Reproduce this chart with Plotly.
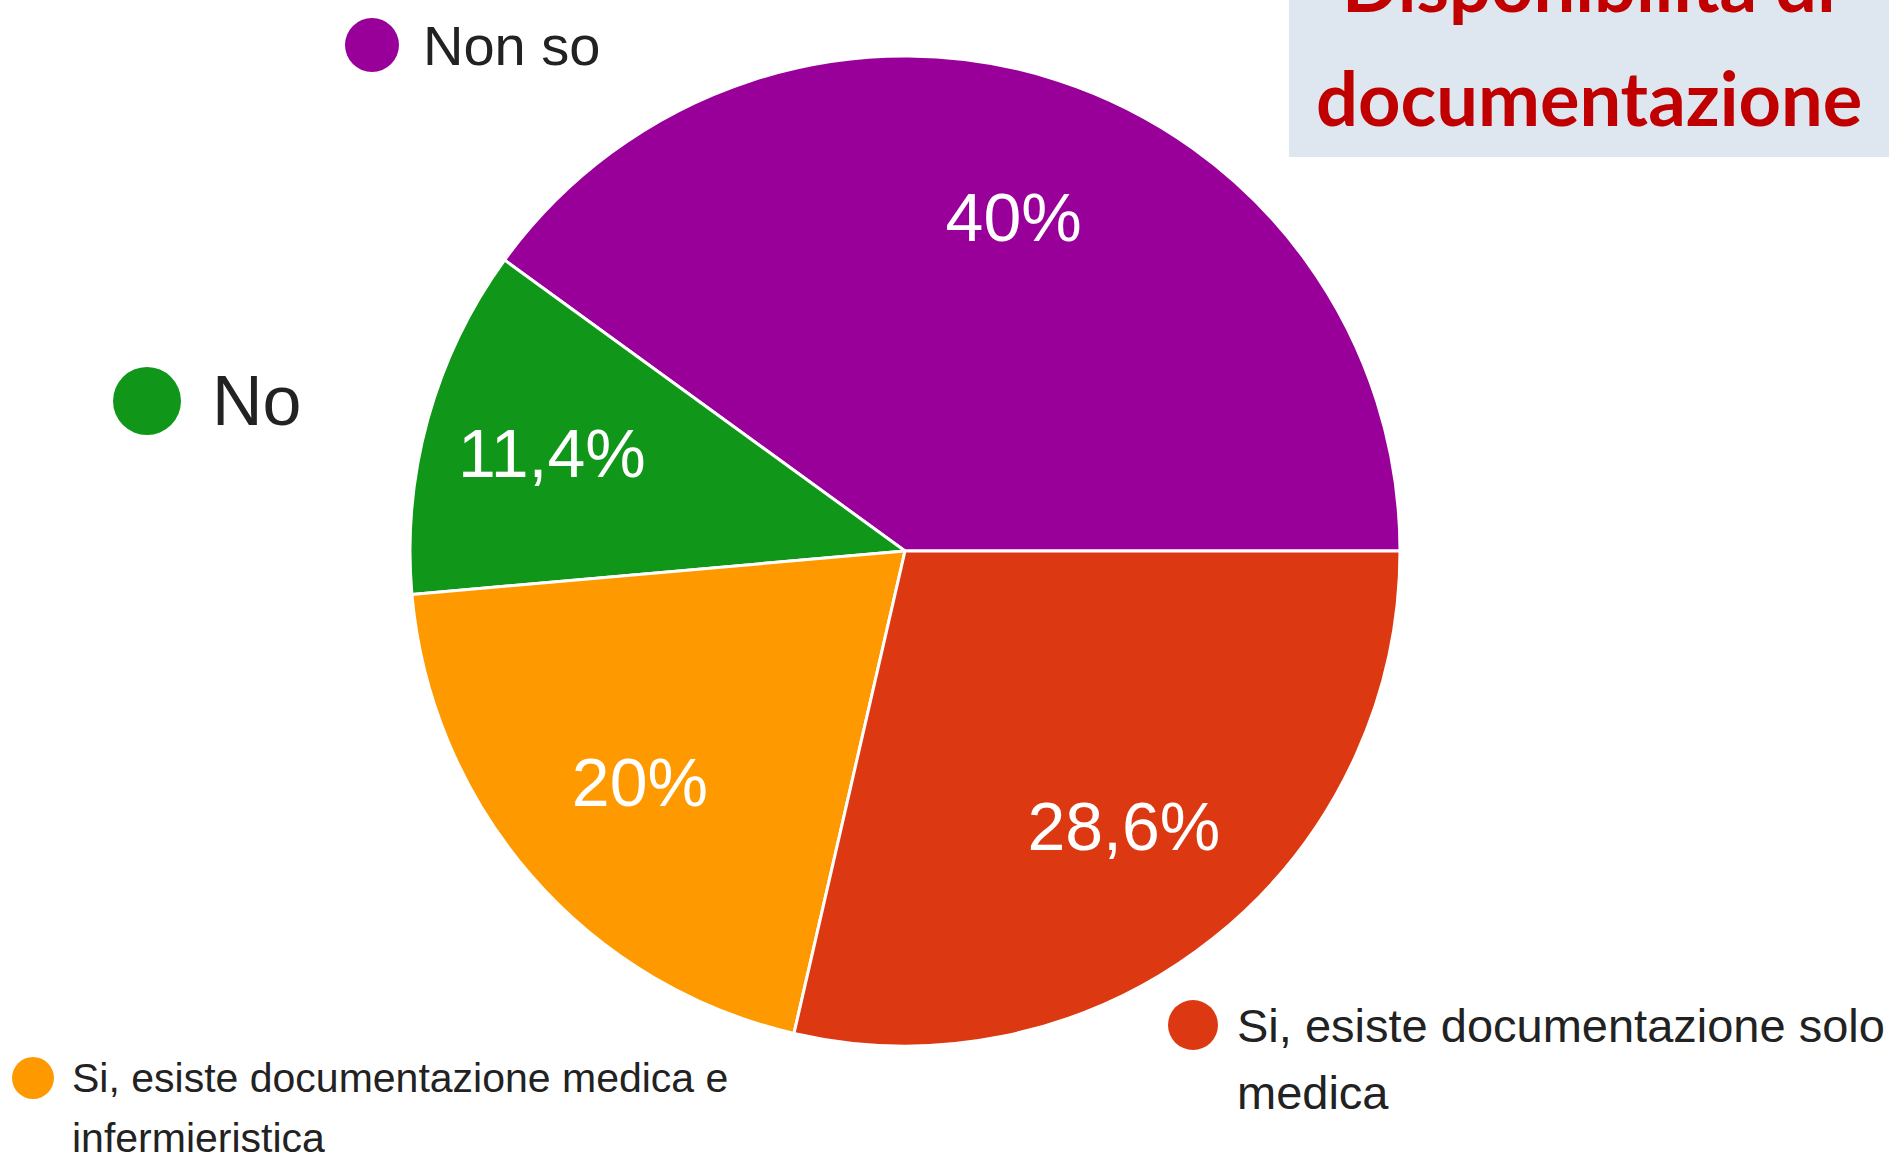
import plotly.graph_objects as go

W, H = 1899, 1155

labels = ["Non so", "No", "Si, esiste documentazione medica e infermieristica",
          "Si, esiste documentazione solo medica"]
values = [40.0, 11.4, 20.0, 28.6]
value_text = ["40%", "11,4%", "20%", "28,6%"]
colors = ["#990099", "#109618", "#FF9900", "#DC3912"]
legend_lines = [["Non so"], ["No"],
                ["Si, esiste documentazione medica e", "infermieristica"],
                ["Si, esiste documentazione solo", "medica"]]
title_lines = ["Disponibilità di", "documentazione"]

# pie placement (pixels)
cx, cy, r = 905, 551, 495
domain = dict(x=[(cx - r) / W, (cx + r) / W],
              y=[(H - cy - r) / H, (H - cy + r) / H])

common = dict(labels=labels, values=values, sort=False,
              direction="counterclockwise", rotation=-54,
              showlegend=False, domain=domain)

fig = go.Figure()
# coloured slices
fig.add_trace(go.Pie(
    **common, textinfo="none",
    marker=dict(colors=colors, line=dict(color="white", width=3)),
    hoverinfo="label+percent",
))
# transparent ring carrying the percentage labels further out, as in the original
fig.add_trace(go.Pie(
    **common, hole=0.42, text=value_text,
    textinfo="text", texttemplate="%{text}",
    textposition="inside", insidetextorientation="horizontal",
    textfont=dict(family="Liberation Sans", size=68, color="white"),
    marker=dict(colors=["rgba(0,0,0,0)"] * 4, line=dict(width=0)),
    hoverinfo="skip",
))

def px(x):
    return x / W

def py(y):
    return 1 - y / H

shapes = []
annotations = []

# legend items: (circle cx, cy, radius, text x, first line y, line step, font size)
legend_pos = [
    (372, 45, 27, 421, 45, 0, 56),
    (147, 401, 34, 210, 401, 0, 70),
    (33, 1078, 21, 70, 1078, 60, 41),
    (1193, 1025, 25, 1235, 1025, 67, 47),
]
for (lx, ly, lr, tx, ty, step, fs), col, lines in zip(legend_pos, colors, legend_lines):
    shapes.append(dict(type="circle", xref="paper", yref="paper",
                       x0=px(lx - lr), x1=px(lx + lr), y0=py(ly + lr), y1=py(ly - lr),
                       fillcolor=col, line=dict(width=0)))
    for i, txt in enumerate(lines):
        annotations.append(dict(text=txt, xref="paper", yref="paper", x=px(tx),
                                y=py(ty + i * step),
                                xanchor="left", yanchor="middle", showarrow=False,
                                align="left",
                                font=dict(family="Liberation Sans", size=fs,
                                          color="#222222")))

# title box
shapes.append(dict(type="rect", xref="paper", yref="paper",
                   x0=px(1289), x1=px(1889), y0=py(157), y1=py(-10),
                   fillcolor="#DEE6F0", line=dict(width=0), layer="below"))
for txt, yy in zip(title_lines, [-17, 98]):
    annotations.append(dict(text="<b>" + txt + "</b>", xref="paper", yref="paper",
                            x=px(1589), y=py(yy), xanchor="center", yanchor="middle",
                            showarrow=False,
                            font=dict(family="Lato", size=74, color="#C00000")))

fig.update_layout(
    width=W, height=H, autosize=False,
    margin=dict(l=0, r=0, t=0, b=0),
    paper_bgcolor="white", plot_bgcolor="white",
    shapes=shapes, annotations=annotations,
)

fig.write_html("out.html", config={"displayModeBar": False},
               post_script="document.body.style.margin='0px';"
                           "document.body.style.overflow='hidden';")
